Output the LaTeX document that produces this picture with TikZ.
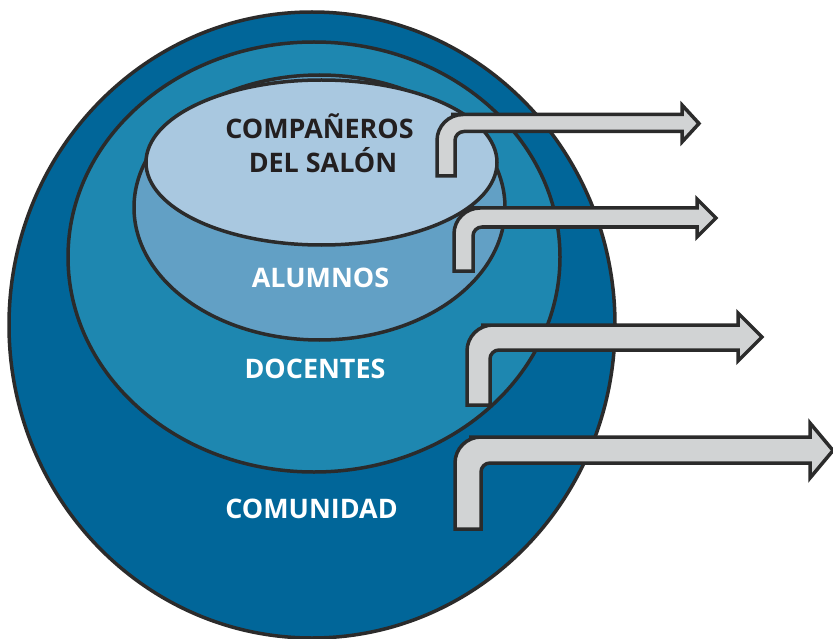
\documentclass[tikz,border=0pt]{standalone}
\usepackage{fontspec}
\setmainfont{Open Sans}
\definecolor{outerblue}{HTML}{016699}
\definecolor{midblue}{HTML}{1E87B0}
\definecolor{alublue}{HTML}{62A0C5}
\definecolor{topblue}{HTML}{A9C8E0}
\definecolor{edge}{HTML}{2B2B2B}
\definecolor{arrowgray}{HTML}{D1D3D4}
\definecolor{textdark}{HTML}{231F20}
\tikzset{
  ring/.style={draw=edge, line width=3.5bp},
  bent/.style={draw=edge, fill=arrowgray, line width=3.5bp, line join=miter},
  lbl/.style={anchor=base, font=\bfseries\fontsize{27}{30}\selectfont, inner sep=0pt},
}
% #1 xL, #2 xR, #3 yBottom, #4 yShaftTop, #5 yShaftBottom, #6 xHeadBase, #7 yHeadTop, #8 yHeadBottom, #9 xTip
\newcommand{\bentarrow}[9]{%
  \path[bent] (#1,#3) [rounded corners=26bp] -- (#1,#4) -- ({#1+40},#4) [sharp corners] -- (#6,#4) -- (#6,#7) -- (#9,{(#7+#8)/2}) -- (#6,#8) -- (#6,#5) -- ({#2+20},#5) [rounded corners=9bp] -- (#2,#5) -- (#2,{#3-10}) [sharp corners] -- (#2,#3) -- cycle;}
\begin{document}
\begin{tikzpicture}[x=1bp,y=-1bp]
\useasboundingbox (0,0) rectangle (833,639);
% layers
\path[ring, fill=outerblue] (312,325) ellipse [x radius=303, y radius=313];
\path[ring, fill=midblue] (314,257) ellipse [x radius=246, y radius=215];
\path[ring, fill=alublue] (319.5,207.5) ellipse [x radius=185.5, y radius=132.5];
\path[ring, fill=topblue] (321.5,162.5) ellipse [x radius=175.5, y radius=82.5];
% labels
\node[lbl, text=textdark] (comp) at (319.5,139) {COMPAÑEROS};
\node[lbl, text=textdark] (salon) at (323,173) {DEL SALÓN};
\node[lbl, text=white] (alum) at (320.5,287) {ALUMNOS};
\node[lbl, text=white] (doc) at (315,378) {DOCENTES};
\node[lbl, text=white] (comu) at (311.5,518) {COMUNIDAD};
% arrows
\bentarrow{437}{455}{176}{114.5}{131.5}{682}{105}{142}{699}
\bentarrow{454}{473}{271}{208}{227}{697}{199}{237}{716}
\bentarrow{467}{490}{405}{325}{350}{738}{313}{361}{762}
\bentarrow{455}{481}{529}{437}{463}{810}{423}{478}{833}
\end{tikzpicture}
\end{document}
